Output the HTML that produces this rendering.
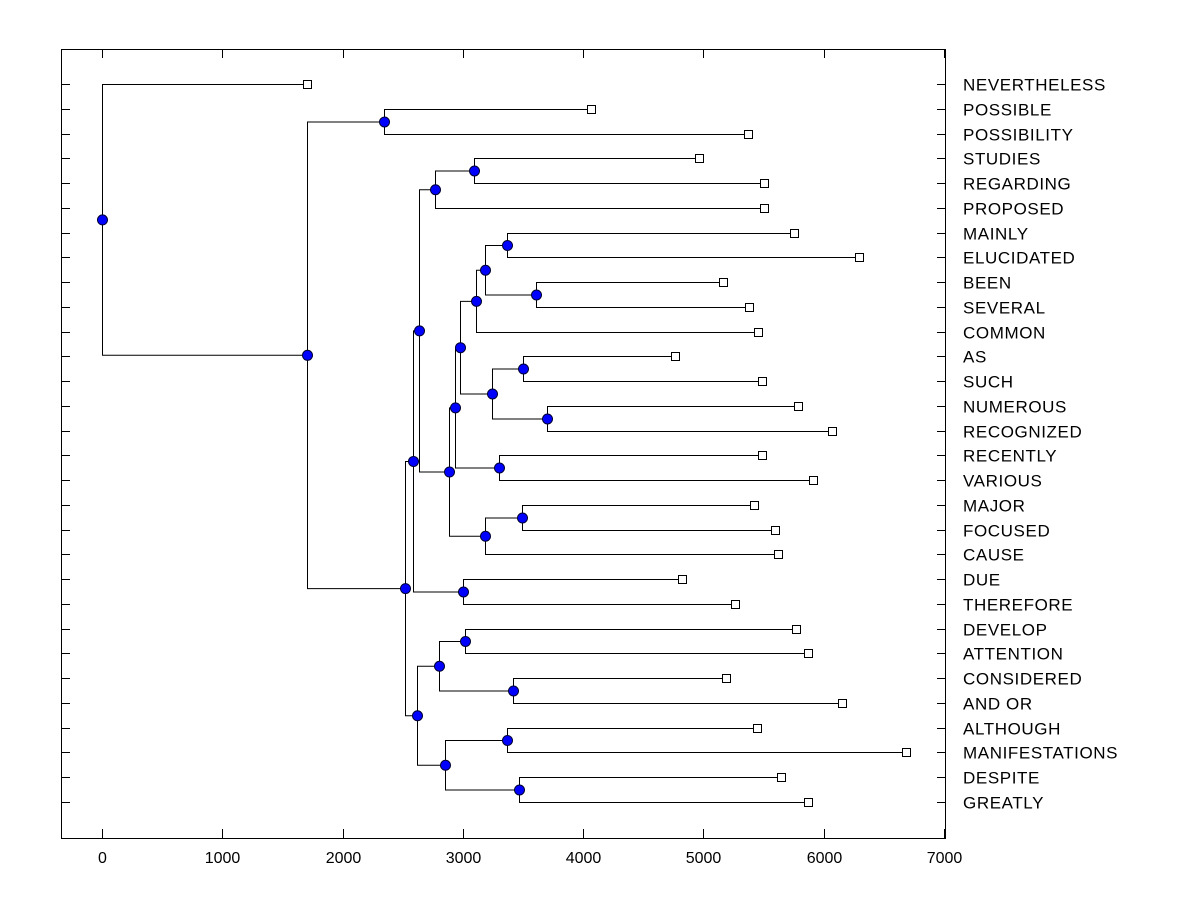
<!DOCTYPE html>
<html><head><meta charset="utf-8"><style>
body{margin:0;background:#fff}
text{font-family:"Liberation Sans",Arial,sans-serif;font-size:16px;fill:#000}
text.lbl{font-size:17px;letter-spacing:0.6px}
</style></head><body>
<svg id="chart" width="1200" height="900" xmlns="http://www.w3.org/2000/svg">
<rect x="0" y="0" width="1200" height="900" fill="#fff"/>
<g id="plot"></g>
</svg>
<script>
const leafNames = ["NEVERTHELESS","POSSIBLE","POSSIBILITY","STUDIES","REGARDING","PROPOSED","MAINLY","ELUCIDATED","BEEN","SEVERAL","COMMON","AS","SUCH","NUMEROUS","RECOGNIZED","RECENTLY","VARIOUS","MAJOR","FOCUSED","CAUSE","DUE","THEREFORE","DEVELOP","ATTENTION","CONSIDERED","AND OR","ALTHOUGH","MANIFESTATIONS","DESPITE","GREATLY"];
const leafValues = [1704,4065,5370,4963,5503,5503,5752,6293,5162,5378,5453,4763,5486,5786,6068,5486,5910,5420,5594,5619,4821,5262,5769,5869,5187,6151,5445,6683,5644,5869];
// internal nodes: [name, value, child1, child2]; children are leaf indices (numbers) or node names
const nodeList = [
 ["N2",2344,1,2],
 ["N10",3092,3,4],
 ["N8",2768,"N10",5],
 ["N18",3367,6,7],
 ["N19",3608,8,9],
 ["N17",3184,"N18","N19"],
 ["N15",3109,"N17",10],
 ["N20",3500,11,12],
 ["N21",3699,13,14],
 ["N16",3242,"N20","N21"],
 ["N13",2976,"N15","N16"],
 ["N14",3300,15,16],
 ["N11",2934,"N13","N14"],
 ["N22",3491,17,18],
 ["N12",3184,"N22",19],
 ["N9",2884,"N11","N12"],
 ["N6",2635,"N8","N9"],
 ["N7",3001,20,21],
 ["N4",2585,"N6","N7"],
 ["N25",3017,22,23],
 ["N26",3416,24,25],
 ["N23",2801,"N25","N26"],
 ["N27",3367,26,27],
 ["N28",3466,28,29],
 ["N24",2851,"N27","N28"],
 ["N5",2618,"N23","N24"],
 ["N3",2519,"N4","N5"],
 ["N1",1704,"N2","N3"],
 ["root",0,0,"N1"]
];
const xTicks = [0,1000,2000,3000,4000,5000,6000,7000];

const NS="http://www.w3.org/2000/svg";
const g=document.getElementById('plot');
const L=61,R=945,T=49,B=838;
const xs=v=>102+v*(842/7000);
const ys=i=>84+i*(718/29);
function mk(tag,at){const e=document.createElementNS(NS,tag);for(const k in at)e.setAttribute(k,at[k]);g.appendChild(e);return e;}

const box=mk('rect',{x:L+0.5,y:T+0.5,width:R-L,height:B-T,fill:'none',stroke:'#000','stroke-width':1});



xTicks.forEach(v=>{
 const x=Math.round(xs(v))+0.5;
 const t1=mk('line',{x1:x,x2:x,y1:B,y2:B-9,stroke:'#000'});
 
 
 const t2=mk('line',{x1:x,x2:x,y1:T,y2:T+9,stroke:'#000'});
 
 
 const tx=mk('text',{x:x,y:863,'text-anchor':'middle'});tx.textContent=v;
 
 
});

const pos={};
leafNames.forEach((n,i)=>{
 const y=Math.round(ys(i))+0.5;
 const a=mk('line',{x1:L,x2:L+9,y1:y,y2:y,stroke:'#000'});
 
 
 const b=mk('line',{x1:R-8,x2:R,y1:y,y2:y,stroke:'#000'});
 
 
 const t=mk('text',{x:963,y:y+6,'class':'lbl'});t.textContent=n;
 
 
 pos[i]={x:xs(leafValues[i]),y:y,leaf:true};
});
nodeList.forEach(([name,v,c1,c2])=>{
 const a=pos[c1],b=pos[c2];
 pos[name]={x:xs(v),y:(a.y+b.y)/2,leaf:false};
});
nodeList.forEach(([name,v,c1,c2])=>{
 const p=pos[name];
 [pos[c1],pos[c2]].forEach(c=>{
  const px=Math.round(p.x)+0.5,cx=Math.round(c.x)+0.5;
  const l=mk('polyline',{points:`${px},${p.y} ${px},${c.y} ${cx},${c.y}`,fill:'none',stroke:'#000','stroke-width':1});
  
  
 });
});
leafNames.forEach((n,i)=>{
 const p=pos[i];
 const s=mk('rect',{x:Math.round(p.x)-3.5,y:p.y-4,width:8,height:8,fill:'#fff',stroke:'#000'});
 
 
});
nodeList.forEach(([name])=>{
 const p=pos[name];
 const c=mk('circle',{cx:Math.round(p.x)+0.5,cy:p.y,r:5,fill:'#0000ff',stroke:'#000033','stroke-width':1});
 
 
});
</script>
</body></html>
